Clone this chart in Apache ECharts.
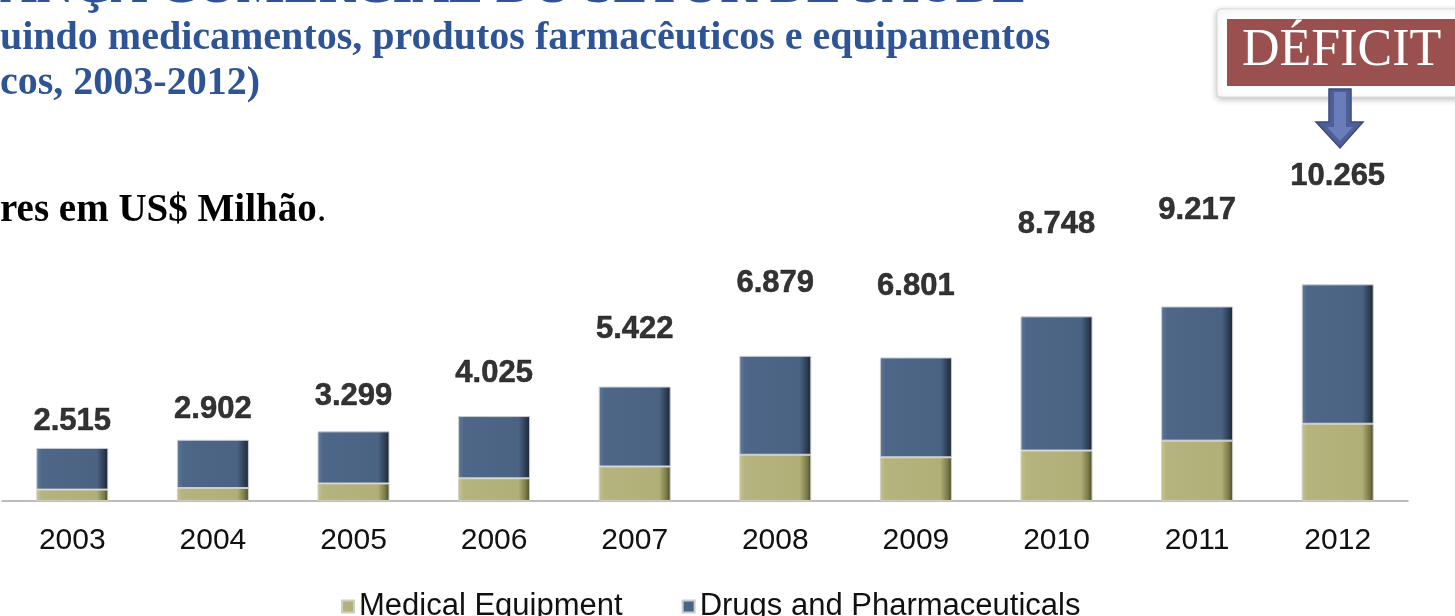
<!DOCTYPE html>
<html>
<head>
<meta charset="utf-8">
<script src="https://cdn.jsdelivr.net/npm/echarts@6/dist/echarts.min.js"></script>
<style>
  html, body { margin: 0; padding: 0; background: #fff; }
  #chart { width: 1455px; height: 616px; }
</style>
</head>
<body>
<div id="chart"></div>
<script>
// US$ milhões
const years = ["2003", "2004", "2005", "2006", "2007", "2008", "2009", "2010", "2011", "2012"];
const medicalEquipment = [540, 616, 830, 1075, 1635, 2190, 2070, 2390, 2860, 3660];
const drugsPharma = [1975, 2286, 2469, 2950, 3787, 4689, 4731, 6358, 6357, 6605];
const deficitTotals = [2515, 2902, 3299, 4025, 5422, 6879, 6801, 8748, 9217, 10265];

const BAR_MAX = 19000;   // bars axis
const LABEL_MAX = 12700; // total labels sit on their own hidden axis

const fmtThousands = (v) => String(v).replace(/\B(?=(\d{3})+(?!\d))/g, ".");

const blueFace = {
  type: "linear", x: 0, y: 0, x2: 1, y2: 0,
  colorStops: [
    { offset: 0, color: "#617A99" },
    { offset: 0.08, color: "#4E6788" },
    { offset: 0.84, color: "#4A6383" },
    { offset: 0.94, color: "#2D3D53" },
    { offset: 1, color: "#1A2432" }
  ]
};
const khakiFace = {
  type: "linear", x: 0, y: 0, x2: 1, y2: 0,
  colorStops: [
    { offset: 0, color: "#C4C38C" },
    { offset: 0.08, color: "#B5B47E" },
    { offset: 0.84, color: "#B0AF78" },
    { offset: 0.94, color: "#7B7A49" },
    { offset: 1, color: "#48482A" }
  ]
};

const chart = echarts.init(document.getElementById("chart"));

const option = {
  backgroundColor: "#ffffff",
  animation: false,
  grid: { left: 2, right: 47, top: 100, bottom: 115 },
  legend: {
    data: ["Medical Equipment", "Drugs and Pharmaceuticals"],
    left: 336,
    top: 586,
    itemWidth: 12,
    itemHeight: 12,
    itemGap: 59,
    icon: "rect",
    textStyle: { fontFamily: "Liberation Sans", fontSize: 31, color: "#111" }
  },
  xAxis: {
    type: "category",
    data: years,
    axisTick: { show: false },
    axisLine: { lineStyle: { color: "#A6A6A6", width: 1.5 } },
    axisLabel: { fontFamily: "Liberation Sans", fontSize: 30, color: "#111", margin: 25 }
  },
  yAxis: [
    { type: "value", min: 0, max: BAR_MAX, show: false },
    { type: "value", min: 0, max: LABEL_MAX, show: false }
  ],
  series: [
    {
      name: "Medical Equipment",
      type: "bar",
      stack: "total",
      barWidth: 72,
      data: medicalEquipment,
      itemStyle: { color: khakiFace, borderColor: "#CFCFC4", borderWidth: 1 }
    },
    {
      name: "Drugs and Pharmaceuticals",
      type: "bar",
      stack: "total",
      barWidth: 72,
      data: drugsPharma,
      itemStyle: { color: blueFace, borderColor: "#C9CDD3", borderWidth: 1 }
    },
    {
      name: "Total",
      type: "scatter",
      yAxisIndex: 1,
      data: deficitTotals,
      symbolSize: 1,
      itemStyle: { color: "rgba(0,0,0,0)" },
      label: {
        show: true,
        position: "inside",
        formatter: (p) => fmtThousands(p.value),
        fontFamily: "Liberation Sans",
        fontWeight: "bold",
        fontSize: 31,
        color: "#000",
        textBorderColor: "#1a1a1a",
        textBorderWidth: 0.6
      },
      silent: true
    }
  ],
  graphic: [
    {
      type: "text", left: 0, top: -37,
      style: {
        text: "ANÇA COMERCIAL DO SETOR DE SAÚDE",
        font: "bold 51px 'Liberation Serif'",
        fill: "#2F5496"
      }
    },
    {
      type: "text", x: 0, y: 39,
      style: {
        text: "uindo medicamentos, produtos farmacêuticos e equipamentos",
        font: "bold 40px 'Liberation Serif'",
        fill: "#2F5496",
        verticalAlign: "middle"
      }
    },
    {
      type: "text", x: 0, y: 84,
      style: {
        text: "cos, 2003-2012)",
        font: "bold 40px 'Liberation Serif'",
        fill: "#2F5496",
        verticalAlign: "middle"
      }
    },
    {
      type: "text", x: 0, y: 211,
      style: {
        text: "{b|res em US$ Milhão}{n|.}",
        verticalAlign: "middle",
        rich: {
          b: { fontFamily: "Liberation Serif", fontWeight: "bold", fontSize: 39, fill: "#000" },
          n: { fontFamily: "Liberation Serif", fontSize: 39, fill: "#000" }
        }
      }
    },
    {
      type: "rect",
      shape: { x: 1217, y: 9, width: 260, height: 88, r: 4 },
      style: { fill: "#fff", stroke: "#DADADA", lineWidth: 1, shadowBlur: 6, shadowColor: "rgba(0,0,0,0.25)", shadowOffsetY: 2 }
    },
    {
      type: "rect",
      shape: { x: 1227, y: 19, width: 250, height: 67 },
      style: { fill: "#9B5050" }
    },
    {
      type: "text", x: 1242, y: 51,
      style: {
        text: "DÉFICIT",
        font: "52px 'Liberation Serif'",
        fill: "#fff",
        verticalAlign: "middle"
      }
    },
    {
      type: "polygon",
      shape: { points: [[1329, 89], [1351, 89], [1351, 122], [1363, 122], [1340, 148], [1316, 122], [1329, 122]] },
      style: { fill: "#4E5F97", stroke: "#3B4A7E", lineWidth: 1.5 }
    },
    {
      type: "polygon",
      shape: { points: [[1334, 92], [1346, 92], [1346, 127], [1353, 127], [1340, 141], [1327, 127], [1334, 127]] },
      style: { fill: "#6A7DBB" }
    }
  ]
};

chart.setOption(option);
window.addEventListener("resize", () => chart.resize());
</script>
</body>
</html>
